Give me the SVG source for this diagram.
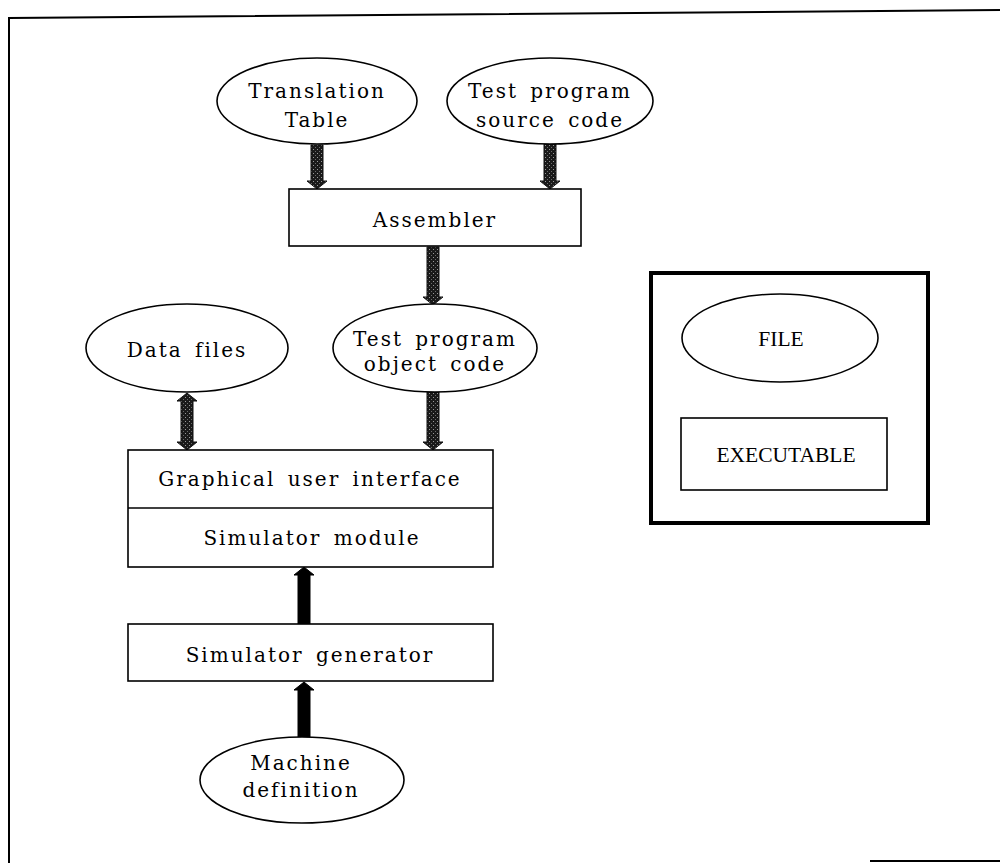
<svg xmlns="http://www.w3.org/2000/svg" width="1000" height="863" viewBox="0 0 1000 863">
<style>
.bg{fill:#ffffff}
.frame{fill:none;stroke:#000;stroke-width:2}
.node{fill:#fff;stroke:#000;stroke-width:1.6}
.legend{fill:none;stroke:#000;stroke-width:4}
.t{font-family:"DejaVu Serif","Liberation Serif",serif;font-size:20px;letter-spacing:2px;word-spacing:4px;fill:#000;text-anchor:middle}
.lt{font-family:"Liberation Serif","Times New Roman",serif;font-size:21.5px;fill:#000;text-anchor:middle}
.hatch{fill:url(#stip);stroke:#111;stroke-width:1}
.solid{fill:#000;stroke:#000;stroke-width:1}
</style>
<defs>
<pattern id="stip" width="4" height="4" patternUnits="userSpaceOnUse">
<rect width="4" height="4" fill="#1a1a1a"/>
<rect x="1" y="1" width="1" height="1" fill="#9a9a9a"/>
<rect x="3" y="3" width="1" height="1" fill="#6a6a6a"/>
</pattern>
</defs>
<rect class="bg" width="1000" height="863"/>
<g id="frame">
<polyline class="frame" points="9,863 9,18 1000,10"/>
<line class="frame" x1="870" y1="861" x2="1000" y2="861"/>
</g>
<g id="connectors">
<path class="hatch" d="M311,145 H323 V181 H327 L317,189 L307,181 H311 Z"/>
<path class="hatch" d="M544,144 H556 V181 H560 L550,189 L540,181 H544 Z"/>
<path class="hatch" d="M427,247 H439 V297 H443 L433,305 L423,297 H427 Z"/>
<path class="hatch" d="M181,401 H177 L187,393 L197,401 H193 V442 H197 L187,450 L177,442 H181 Z"/>
<path class="hatch" d="M427,392 H439 V442 H443 L433,450 L423,442 H427 Z"/>
<path class="solid" d="M298,624 V575 H294 L304,567 L314,575 H310 V624 Z"/>
<path class="solid" d="M298,737 V690 H294 L304,682 L314,690 H310 V737 Z"/>
</g>
<g id="translation-table">
<ellipse class="node" cx="317" cy="101" rx="100" ry="43"/>
<text class="t" x="317" y="98">Translation</text>
<text class="t" x="317" y="127">Table</text>
</g>
<g id="test-source">
<ellipse class="node" cx="550" cy="101" rx="103" ry="43"/>
<text class="t" x="550" y="98">Test program</text>
<text class="t" x="550" y="127">source code</text>
</g>
<g id="assembler">
<rect class="node" x="289" y="189" width="292" height="57"/>
<text class="t" x="435" y="227">Assembler</text>
</g>
<g id="data-files">
<ellipse class="node" cx="187" cy="348" rx="101" ry="44"/>
<text class="t" x="187" y="357">Data files</text>
</g>
<g id="test-object">
<ellipse class="node" cx="435" cy="348" rx="102" ry="44"/>
<text class="t" x="435" y="346">Test program</text>
<text class="t" x="435" y="371">object code</text>
</g>
<g id="gui-simulator">
<rect class="node" x="128" y="450" width="365" height="117"/>
<line class="node" x1="128" y1="508" x2="493" y2="508"/>
<text class="t" x="310" y="486">Graphical user interface</text>
<text class="t" x="312" y="545">Simulator module</text>
</g>
<g id="simulator-generator">
<rect class="node" x="128" y="624" width="365" height="57"/>
<text class="t" x="310" y="662">Simulator generator</text>
</g>
<g id="machine-definition">
<ellipse class="node" cx="302" cy="780" rx="102" ry="43"/>
<text class="t" x="301" y="770">Machine</text>
<text class="t" x="301" y="797">definition</text>
</g>
<g id="legend">
<rect class="legend" x="651" y="273" width="277" height="250"/>
<g id="legend-file">
<ellipse class="node" cx="780" cy="338" rx="98" ry="44"/>
<text class="lt" x="781" y="346">FILE</text>
</g>
<g id="legend-executable">
<rect class="node" x="681" y="418" width="206" height="72"/>
<text class="lt" x="786" y="462">EXECUTABLE</text>
</g>
</g>
</svg>
